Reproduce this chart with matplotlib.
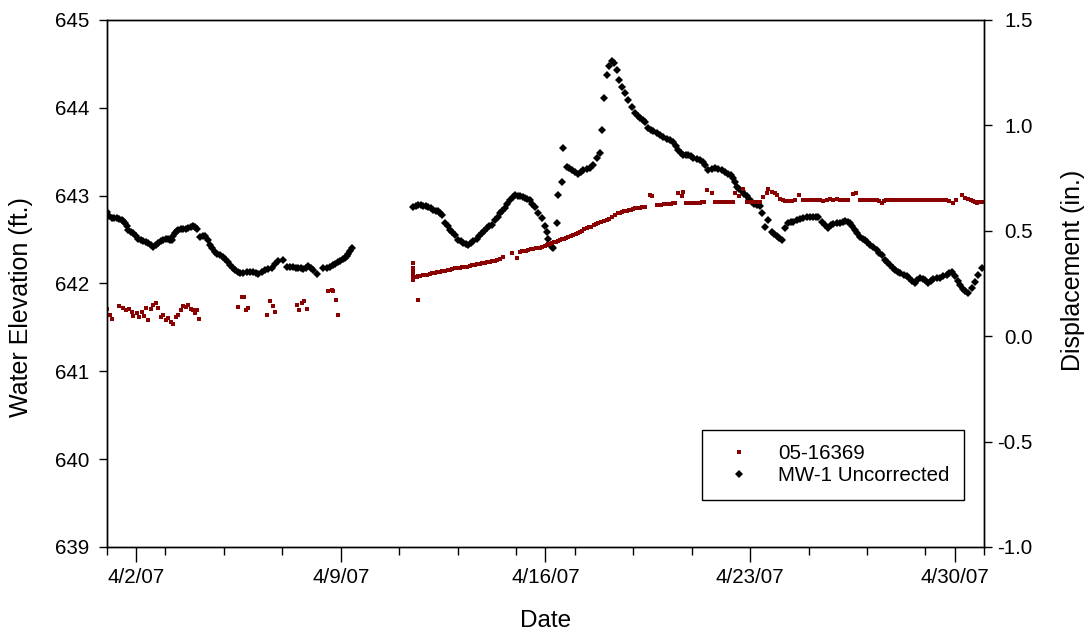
import datetime as dt
import matplotlib
matplotlib.use("Agg")
import matplotlib.pyplot as plt
import matplotlib.dates as mdates
from matplotlib.ticker import MultipleLocator, FormatStrFormatter, FuncFormatter

plt.rcParams['font.family'] = ['Liberation Sans', 'DejaVu Sans']
plt.rcParams['axes.unicode_minus'] = False

START = dt.datetime(2007, 4, 1)

# MW-1 Uncorrected: days after 4/1/07 00:00, water elevation (ft.)
mw1_day = [
    0.01, 0.08, 0.16, 0.25, 0.33, 0.42, 0.50, 0.56, 0.62, 0.68, 0.73, 0.82,
    0.90, 0.99, 1.07, 1.16, 1.24, 1.33, 1.41, 1.50, 1.58, 1.67, 1.76, 1.85,
    1.93, 2.02, 2.10, 2.16, 2.21, 2.27, 2.33, 2.39, 2.44, 2.53, 2.61, 2.70,
    2.78, 2.86, 2.93, 3.01, 3.09, 3.18, 3.27, 3.35, 3.44, 3.52, 3.61, 3.69,
    3.78, 3.87, 3.96, 4.04, 4.13, 4.21, 4.30, 4.38, 4.47, 4.55, 4.67, 4.78,
    4.90, 5.01, 5.10, 5.18, 5.30, 5.41, 5.52, 5.63, 5.75, 5.86, 6.03, 6.17,
    6.27, 6.37, 6.46, 6.54, 6.63, 6.72, 6.80, 6.89, 6.98, 7.06, 7.17, 7.40,
    7.52, 7.63, 7.72, 7.80, 7.89, 7.97, 8.06, 8.14, 8.20, 8.26, 8.32, 8.37,
    10.48, 10.56, 10.65, 10.74, 10.82, 10.90, 10.99, 11.08, 11.16, 11.25,
    11.33, 11.39, 11.45, 11.56, 11.65, 11.73, 11.82, 11.91, 12.02, 12.10,
    12.19, 12.28, 12.36, 12.45, 12.53, 12.65, 12.73, 12.82, 12.90, 12.99,
    13.08, 13.16, 13.27, 13.36, 13.45, 13.53, 13.62, 13.70, 13.79, 13.88,
    13.96, 14.05, 14.13, 14.22, 14.30, 14.38, 14.47, 14.55, 14.64, 14.76,
    14.87, 14.98, 15.04, 15.10, 15.21, 15.27, 15.39, 15.44, 15.56, 15.61,
    15.73, 15.82, 15.90, 16.01, 16.12, 16.21, 16.30, 16.41, 16.52, 16.64,
    16.75, 16.87, 16.92, 17.00, 17.10, 17.18, 17.27, 17.35, 17.44, 17.53,
    17.61, 17.72, 17.83, 17.95, 18.06, 18.15, 18.24, 18.33, 18.41, 18.52,
    18.60, 18.69, 18.80, 18.92, 19.03, 19.15, 19.26, 19.37, 19.46, 19.54,
    19.63, 19.72, 19.80, 19.89, 19.98, 20.06, 20.18, 20.29, 20.38, 20.46,
    20.57, 20.69, 20.80, 20.91, 21.03, 21.15, 21.26, 21.35, 21.43, 21.48,
    21.54, 21.62, 21.71, 21.80, 21.89, 21.98, 22.06, 22.15, 22.23, 22.34,
    22.40, 22.51, 22.60, 22.74, 22.82, 22.91, 23.00, 23.08, 23.20, 23.31,
    23.40, 23.48, 23.60, 23.71, 23.82, 23.94, 24.05, 24.16, 24.25, 24.33,
    24.45, 24.56, 24.68, 24.77, 24.85, 24.96, 25.08, 25.17, 25.25, 25.34,
    25.42, 25.50, 25.59, 25.67, 25.76, 25.85, 25.93, 26.01, 26.10, 26.22,
    26.33, 26.42, 26.50, 26.62, 26.70, 26.79, 26.88, 26.96, 27.05, 27.13,
    27.25, 27.36, 27.45, 27.53, 27.64, 27.72, 27.81, 27.90, 27.98, 28.10,
    28.18, 28.27, 28.39, 28.50, 28.61, 28.73, 28.81, 28.90, 29.01, 29.10,
    29.18, 29.27, 29.35, 29.47, 29.58, 29.70, 29.81, 29.92,
]
mw1_elev = [
    642.81, 642.77, 642.75, 642.75, 642.74, 642.73, 642.72, 642.71, 642.69, 642.65, 642.61, 642.59,
    642.57, 642.54, 642.51, 642.49, 642.48, 642.47, 642.46, 642.44, 642.42, 642.44, 642.46, 642.48,
    642.50, 642.51, 642.51, 642.50, 642.50, 642.54, 642.57, 642.60, 642.61, 642.62, 642.62, 642.62,
    642.63, 642.64, 642.65, 642.64, 642.62, 642.53, 642.54, 642.54, 642.49, 642.44, 642.40, 642.36,
    642.34, 642.32, 642.30, 642.28, 642.24, 642.21, 642.18, 642.15, 642.13, 642.12, 642.12, 642.13,
    642.13, 642.13, 642.12, 642.11, 642.13, 642.15, 642.16, 642.17, 642.22, 642.26, 642.27, 642.19,
    642.19, 642.19, 642.18, 642.17, 642.17, 642.16, 642.18, 642.20, 642.18, 642.15, 642.11, 642.17,
    642.18, 642.19, 642.21, 642.22, 642.24, 642.26, 642.28, 642.29, 642.31, 642.34, 642.37, 642.40,
    642.87, 642.88, 642.89, 642.89, 642.88, 642.88, 642.87, 642.86, 642.84, 642.83,
    642.82, 642.80, 642.78, 642.69, 642.65, 642.61, 642.58, 642.55, 642.50, 642.48,
    642.46, 642.45, 642.44, 642.46, 642.48, 642.51, 642.54, 642.57, 642.60, 642.63,
    642.65, 642.67, 642.72, 642.76, 642.80, 642.83, 642.86, 642.90, 642.95, 642.98,
    643.01, 643.00, 642.99, 642.98, 642.97, 642.96, 642.95, 642.91, 642.87, 642.80,
    642.74, 642.65, 642.58, 642.51, 642.42, 642.40, 642.69, 643.01, 643.15, 643.54,
    643.33, 643.31, 643.29, 643.27, 643.25, 643.27, 643.29, 643.30, 643.31, 643.35,
    643.43, 643.48, 643.75, 644.11, 644.37, 644.47, 644.53, 644.51, 644.43, 644.32,
    644.24, 644.17, 644.09, 644.01, 643.94, 643.91, 643.88, 643.86, 643.84, 643.77,
    643.75, 643.73, 643.71, 643.69, 643.67, 643.65, 643.63, 643.61, 643.57, 643.52,
    643.49, 643.46, 643.46, 643.46, 643.45, 643.43, 643.42, 643.40, 643.38, 643.35,
    643.29, 643.30, 643.31, 643.30, 643.29, 643.27, 643.25, 643.23, 643.20, 643.15,
    643.10, 643.07, 643.05, 643.02, 642.99, 642.96, 642.93, 642.91, 642.89, 642.88,
    642.80, 642.64, 642.72, 642.59, 642.56, 642.54, 642.52, 642.50, 642.63, 642.69,
    642.70, 642.70, 642.72, 642.73, 642.75, 642.76, 642.76, 642.76, 642.76, 642.76,
    642.70, 642.67, 642.63, 642.66, 642.68, 642.69, 642.69, 642.70, 642.71, 642.70,
    642.69, 642.65, 642.61, 642.57, 642.53, 642.51, 642.50, 642.47, 642.44, 642.41,
    642.38, 642.35, 642.32, 642.27, 642.24, 642.21, 642.18, 642.15, 642.13, 642.12,
    642.10, 642.09, 642.06, 642.03, 642.01, 642.04, 642.06, 642.05, 642.04, 642.00,
    642.03, 642.05, 642.06, 642.06, 642.08, 642.10, 642.12, 642.13, 642.08, 642.03,
    641.98, 641.94, 641.91, 641.89, 641.95, 642.02, 642.10, 642.17,
]

# 05-16369: days after 4/1/07 00:00, displacement (in.)
gauge_day = [
    0.01, 0.10, 0.18, 0.42, 0.54, 0.65, 0.76, 0.85, 0.90, 1.02, 1.11, 1.19,
    1.27, 1.33, 1.41, 1.50, 1.58, 1.68, 1.76, 1.84, 1.93, 2.02, 2.10, 2.18,
    2.27, 2.36, 2.44, 2.52, 2.61, 2.70, 2.78, 2.86, 2.95, 3.01, 3.07, 3.16,
    4.49, 4.61, 4.69, 4.76, 4.83,
    5.48, 5.58, 5.67, 5.75,
    6.49, 6.58, 6.66, 6.74, 6.83,
    7.57, 7.69, 7.74, 7.83, 7.91,
    10.48, 10.48, 10.48, 10.48, 10.48, 10.63,
    10.60, 10.65, 10.71, 10.80, 10.88, 10.96, 11.05, 11.13, 11.22, 11.30,
    11.39, 11.47, 11.56, 11.65, 11.73, 11.82, 11.91, 11.99, 12.08, 12.16,
    12.25, 12.33, 12.42, 12.50, 12.59, 12.67, 12.76, 12.84, 12.93, 13.01,
    13.10, 13.18, 13.27, 13.35, 13.44, 13.56, 13.87, 14.02, 14.13, 14.20,
    14.27, 14.34, 14.41, 14.49, 14.57, 14.66, 14.76, 14.82, 14.88, 14.98,
    15.04, 15.09, 15.15, 15.21, 15.28, 15.36, 15.43, 15.50, 15.56, 15.63,
    15.70, 15.78, 15.86, 15.95, 16.03, 16.11, 16.18, 16.25, 16.33, 16.41,
    16.48, 16.56, 16.65, 16.73, 16.81, 16.90, 17.00, 17.10, 17.19, 17.28,
    17.38, 17.49, 17.55, 17.62, 17.70, 17.78, 17.85, 17.93, 18.00, 18.06,
    18.15, 18.23, 18.32, 18.41, 18.58, 18.66, 18.81, 18.88, 18.95, 19.05,
    19.15, 19.22, 19.30, 19.37, 19.43, 19.54, 19.66, 19.72, 19.81, 19.90,
    20.00, 20.08, 20.15, 20.22, 20.29, 20.36, 20.42, 20.52, 20.69, 20.80,
    20.88, 20.97, 21.08, 21.20, 21.31, 21.43, 21.48, 21.63, 21.77, 21.88,
    21.97, 22.06, 22.15, 22.23, 22.34, 22.43, 22.57, 22.62, 22.74, 22.85,
    22.93, 23.02, 23.11, 23.20, 23.28, 23.37, 23.45, 23.54, 23.68, 23.82,
    23.93, 24.05, 24.16, 24.28, 24.40, 24.51, 24.62, 24.73, 24.85, 24.96,
    25.08, 25.19, 25.28, 25.36, 25.53, 25.62, 25.76, 25.86, 25.97, 26.07,
    26.17, 26.25, 26.34, 26.42, 26.50, 26.58, 26.65, 26.76, 26.86, 26.96,
    27.06, 27.17, 27.27, 27.37, 27.47, 27.58, 27.68, 27.78, 27.88, 27.99,
    28.09, 28.19, 28.29, 28.40, 28.50, 28.60, 28.70, 28.82, 28.93, 29.05,
    29.24, 29.35, 29.47, 29.56, 29.64, 29.70, 29.75, 29.83, 29.92,
]
gauge_disp = [
    0.128, 0.101, 0.080, 0.143, 0.132, 0.124, 0.128, 0.116, 0.096, 0.109, 0.090, 0.116,
    0.096, 0.132, 0.077, 0.128, 0.148, 0.159, 0.132, 0.092, 0.101, 0.077, 0.085, 0.069,
    0.058, 0.092, 0.101, 0.124, 0.143, 0.140, 0.148, 0.128, 0.124, 0.109, 0.124, 0.080,
    0.140, 0.187, 0.187, 0.124, 0.132,
    0.099, 0.167, 0.143, 0.115,
    0.148, 0.123, 0.159, 0.168, 0.130,
    0.216, 0.219, 0.214, 0.172, 0.099,
    0.347, 0.324, 0.305, 0.286, 0.267, 0.172,
    0.282, 0.284, 0.286, 0.288, 0.290, 0.292, 0.295, 0.298, 0.301, 0.303,
    0.306, 0.308, 0.311, 0.313, 0.316, 0.319, 0.322, 0.323, 0.325, 0.326,
    0.327, 0.330, 0.333, 0.336, 0.338, 0.340, 0.342, 0.346, 0.349, 0.351,
    0.353, 0.356, 0.358, 0.361, 0.364, 0.374, 0.396, 0.370, 0.401, 0.403,
    0.404, 0.406, 0.409, 0.412, 0.414, 0.416, 0.417, 0.420, 0.423, 0.428,
    0.432, 0.435, 0.438, 0.441, 0.445, 0.448, 0.452, 0.456, 0.460, 0.463,
    0.466, 0.469, 0.475, 0.480, 0.485, 0.490, 0.495, 0.499, 0.506, 0.512,
    0.516, 0.520, 0.525, 0.530, 0.536, 0.542, 0.547, 0.551, 0.558, 0.565,
    0.574, 0.582, 0.586, 0.589, 0.592, 0.594, 0.597, 0.599, 0.603, 0.606,
    0.608, 0.610, 0.612, 0.614, 0.670, 0.667, 0.621, 0.623, 0.624, 0.626,
    0.627, 0.628, 0.629, 0.630, 0.630, 0.681, 0.665, 0.682, 0.630, 0.631,
    0.632, 0.633, 0.633, 0.633, 0.633, 0.634, 0.634, 0.694, 0.678, 0.635,
    0.635, 0.635, 0.636, 0.637, 0.638, 0.638, 0.681, 0.665, 0.697, 0.637,
    0.636, 0.635, 0.635, 0.635, 0.638, 0.662, 0.678, 0.697, 0.686, 0.678,
    0.670, 0.649, 0.645, 0.643, 0.642, 0.641, 0.643, 0.646, 0.670, 0.646,
    0.646, 0.646, 0.646, 0.646, 0.645, 0.643, 0.646, 0.649, 0.648, 0.649,
    0.647, 0.646, 0.646, 0.646, 0.675, 0.678, 0.646, 0.646, 0.646, 0.646,
    0.646, 0.646, 0.646, 0.640, 0.630, 0.640, 0.646, 0.646, 0.646, 0.646,
    0.645, 0.646, 0.647, 0.646, 0.646, 0.646, 0.645, 0.646, 0.646, 0.646,
    0.645, 0.646, 0.646, 0.646, 0.646, 0.646, 0.645, 0.642, 0.633, 0.646,
    0.670, 0.654, 0.649, 0.646, 0.643, 0.638, 0.633, 0.636, 0.638,
]


def to_num(days):
    return [mdates.date2num(START + dt.timedelta(days=d)) for d in days]


def date_label(v, pos):
    d = mdates.num2date(v)
    return f"{d.month}/{d.day}/{d.strftime('%y')}"


fig = plt.figure(figsize=(10.86, 6.33), dpi=100)
ax = fig.add_axes([0.0985, 0.136, 0.8075, 0.8325])
ax2 = ax.twinx()

h_black, = ax.plot(to_num(mw1_day), mw1_elev, ls='none', marker='D', ms=4.2,
                   mew=0, color='black', label='MW-1 Uncorrected')
h_red, = ax2.plot(to_num(gauge_day), gauge_disp, ls='none', marker='s', ms=3.1,
                  mew=0, color='#8b0000', label='05-16369')

ax.set_xlim(mdates.date2num(START), mdates.date2num(START + dt.timedelta(days=30)))
ax.set_ylim(639, 645)
ax2.set_ylim(-1.0, 1.5)

ax.xaxis.set_major_locator(mdates.DayLocator(bymonthday=[2, 9, 16, 23, 30]))
ax.xaxis.set_minor_locator(mdates.DayLocator(bymonthday=list(range(1, 32, 2))))
ax.xaxis.set_major_formatter(FuncFormatter(date_label))
ax.yaxis.set_major_locator(MultipleLocator(1))
ax2.yaxis.set_major_locator(MultipleLocator(0.5))
ax2.yaxis.set_major_formatter(FormatStrFormatter('%.1f'))

ax.tick_params(axis='x', which='major', length=11, width=1, pad=4, labelsize=14.8)
ax.tick_params(axis='x', which='minor', length=6, width=1)
ax.tick_params(axis='y', length=6, width=1, pad=7, labelsize=14.8)
ax2.tick_params(axis='y', length=6, width=1, pad=29, labelsize=14.8)
for lbl in ax2.get_yticklabels():
    lbl.set_horizontalalignment('right')

for a in (ax, ax2):
    for sp in a.spines.values():
        sp.set_linewidth(1.0)

ax.set_xlabel('Date', fontsize=17.5)
ax.xaxis.set_label_coords(0.5, -0.12)
ax.set_ylabel('Water Elevation (ft.)', fontsize=18)
ax.yaxis.set_label_coords(-0.084, 0.455)
ax2.set_ylabel('Displacement (in.)', fontsize=18)
ax2.yaxis.set_label_coords(1.088, 0.524)

leg = ax2.legend([h_red, h_black], ['05-16369', 'MW-1 Uncorrected'],
                 loc='upper left', bbox_to_anchor=(0.678, 0.222),
                 bbox_transform=ax.transAxes, borderaxespad=0,
                 fontsize=14.8, frameon=True, fancybox=False, framealpha=1,
                 edgecolor='black', borderpad=0.7, handlelength=2.2,
                 handletextpad=0.83, labelspacing=0.15, numpoints=1)
leg.get_frame().set_linewidth(1.0)

fig.savefig('out.png', dpi=100)
